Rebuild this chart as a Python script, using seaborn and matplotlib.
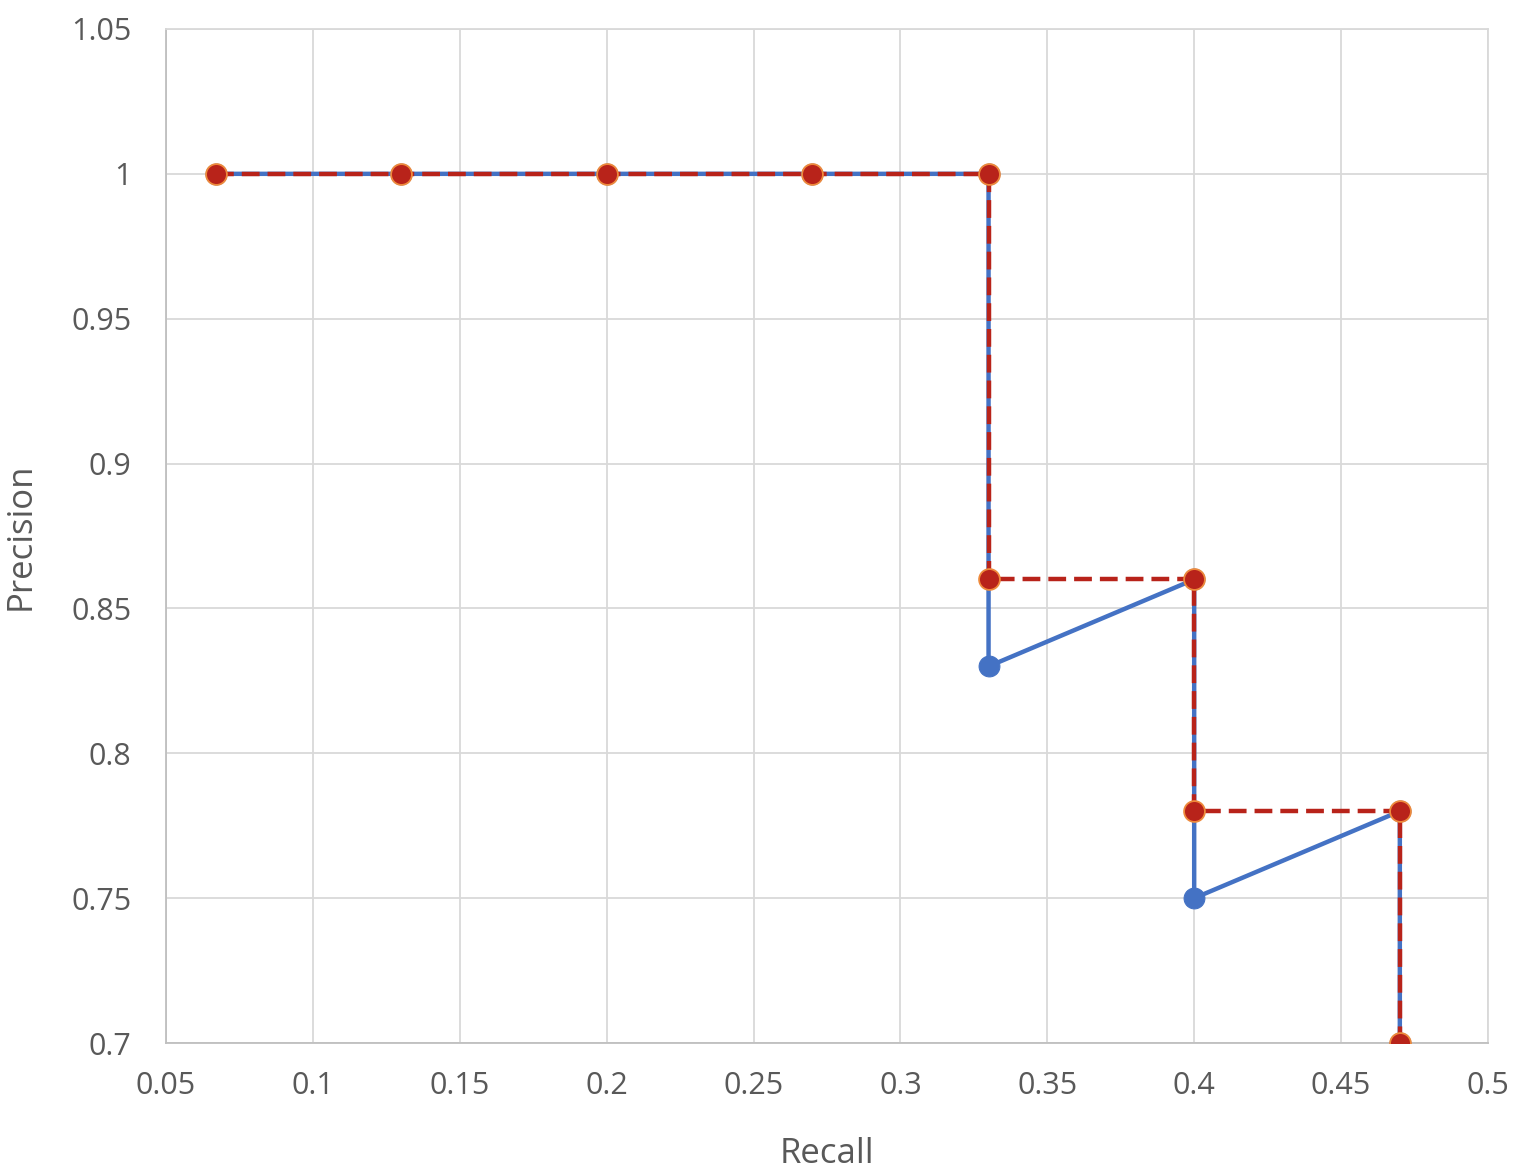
import matplotlib
matplotlib.use("Agg")
import matplotlib.pyplot as plt
import seaborn as sns

# precision / recall points
recall = [0.067, 0.13, 0.2, 0.27, 0.33, 0.33, 0.4, 0.4, 0.47, 0.47]
precision = [1, 1, 1, 1, 1, 0.83, 0.86, 0.75, 0.78, 0.7]
# interpolated precision
interp = [1, 1, 1, 1, 1, 0.86, 0.86, 0.78, 0.78, 0.7]

xticks = [0.05, 0.1, 0.15, 0.2, 0.25, 0.3, 0.35, 0.4, 0.45, 0.5]
yticks = [0.7, 0.75, 0.8, 0.85, 0.9, 0.95, 1, 1.05]
xlabels = ["0.05", "0.1", "0.15", "0.2", "0.25", "0.3", "0.35", "0.4", "0.45", "0.5"]
ylabels = ["0.7", "0.75", "0.8", "0.85", "0.9", "0.95", "1", "1.05"]

sns.set_style("white")
plt.rcParams['font.family'] = ['Open Sans', 'DejaVu Sans']

fig = plt.figure(figsize=(15.4, 11.68), dpi=100)
ax = fig.add_axes([0.1078, 0.107, 0.8584, 0.8682])

sns.lineplot(x=recall, y=precision, sort=False, estimator=None, ax=ax,
             color='#4472C4', linewidth=3.2, marker='o', markersize=15,
             markeredgecolor='#4472C4', zorder=3)
sns.lineplot(x=recall, y=interp, sort=False, estimator=None, ax=ax,
             color='#B8231A', linewidth=3.2, linestyle=(0, (4, 1.8)), marker='o',
             markersize=15, markerfacecolor='#B8231A', markeredgecolor='#EE8A3C',
             markeredgewidth=1.3, zorder=4)

ax.set_xlim(0.05, 0.5)
ax.set_ylim(0.7, 1.05)
ax.set_xticks(xticks)
ax.set_xticklabels(xlabels)
ax.set_yticks(yticks)
ax.set_yticklabels(ylabels)
ax.grid(True, color='#D9D9D9', linewidth=1.3)
for s in ax.spines.values():
    s.set_color('#D9D9D9')
    s.set_linewidth(1.3)
ax.spines['bottom'].set_color('#BFBFBF')
ax.spines['left'].set_color('#BFBFBF')
ax.tick_params(length=0, labelsize=22, labelcolor='#595959')
ax.tick_params(axis='y', pad=25)
ax.tick_params(axis='x', pad=20)
ax.set_xlabel('Recall', fontsize=25, color='#595959', labelpad=26)
ax.set_ylabel('Precision', fontsize=25, color='#595959', labelpad=24)

fig.savefig('out.png', dpi=100)
